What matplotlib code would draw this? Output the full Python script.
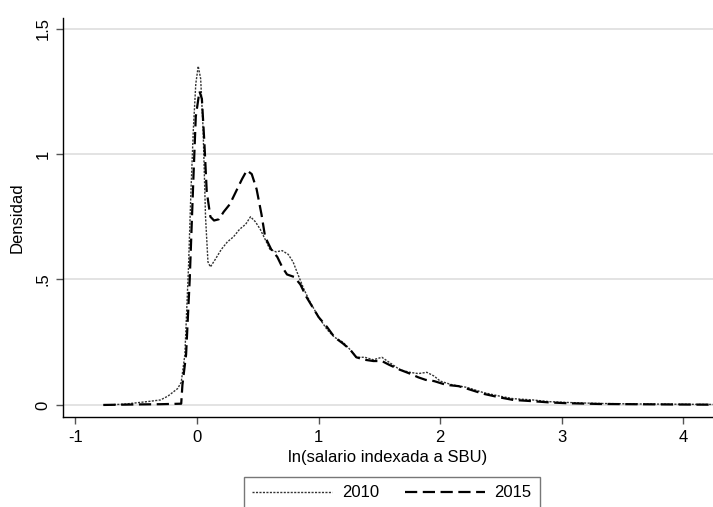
import matplotlib
matplotlib.use("Agg")
import matplotlib.pyplot as plt

# ---- data ----
x_2010 = [-0.77, -0.6, -0.47, -0.38, -0.3, -0.24, -0.2, -0.16, -0.13, -0.10, -0.07, -0.05,
          -0.03, -0.01, 0.01, 0.03, 0.05, 0.07, 0.09, 0.11, 0.15, 0.2, 0.25, 0.3, 0.35, 0.4,
          0.44, 0.48, 0.52, 0.56, 0.6, 0.65, 0.7, 0.75, 0.79, 0.83, 0.88, 0.93, 1.0, 1.07,
          1.13, 1.2, 1.26, 1.31, 1.38, 1.45, 1.52, 1.58, 1.67, 1.75, 1.82, 1.89, 1.95, 2.0,
          2.1, 2.22, 2.35, 2.49, 2.6, 2.76, 2.9, 3.04, 3.3, 3.6, 3.9, 4.25]
y_2010 = [0.0, 0.003, 0.01, 0.015, 0.02, 0.035, 0.05, 0.065, 0.09, 0.2, 0.55, 0.85,
          1.1, 1.28, 1.35, 1.3, 1.1, 0.75, 0.57, 0.55, 0.58, 0.62, 0.65, 0.67, 0.70, 0.72,
          0.75, 0.73, 0.70, 0.66, 0.62, 0.61, 0.615, 0.6, 0.57, 0.52, 0.46, 0.41, 0.35, 0.30,
          0.27, 0.25, 0.22, 0.19, 0.19, 0.18, 0.19, 0.17, 0.14, 0.13, 0.125, 0.13, 0.115, 0.095,
          0.08, 0.07, 0.05, 0.035, 0.025, 0.02, 0.013, 0.01, 0.006, 0.004, 0.003, 0.002]

x_2015 = [-0.77, -0.5, -0.3, -0.13, -0.12, -0.09, -0.06, -0.03, -0.01, 0.02, 0.04, 0.06,
          0.08, 0.11, 0.14, 0.18, 0.22, 0.27, 0.32, 0.37, 0.41, 0.45, 0.49, 0.53, 0.56, 0.61,
          0.66, 0.70, 0.74, 0.8, 0.85, 0.9, 0.95, 1.0, 1.07, 1.13, 1.2, 1.26, 1.31, 1.38,
          1.45, 1.52, 1.58, 1.67, 1.75, 1.82, 1.88, 1.95, 2.05, 2.15, 2.22, 2.35, 2.49, 2.6,
          2.76, 2.9, 3.04, 3.3, 3.6, 3.9, 4.25]
y_2015 = [0.0, 0.002, 0.003, 0.005, 0.08, 0.2, 0.5, 0.9, 1.15, 1.25, 1.22, 1.05,
          0.85, 0.75, 0.735, 0.74, 0.77, 0.8, 0.85, 0.90, 0.935, 0.92, 0.86, 0.76, 0.67, 0.62,
          0.59, 0.55, 0.52, 0.51, 0.48, 0.43, 0.39, 0.35, 0.31, 0.27, 0.245, 0.22, 0.19, 0.18,
          0.175, 0.175, 0.16, 0.14, 0.125, 0.11, 0.10, 0.095, 0.08, 0.075, 0.065, 0.045, 0.03, 0.02,
          0.015, 0.01, 0.007, 0.004, 0.003, 0.002, 0.001]

series_labels = ["2010", "2015"]
x_ticks = [-1, 0, 1, 2, 3, 4]
x_ticklabels = ["-1", "0", "1", "2", "3", "4"]
y_ticks = [0, 0.5, 1, 1.5]
y_ticklabels = ["0", ".5", "1", "1.5"]

plt.rcParams['font.family'] = ['Liberation Sans', 'DejaVu Sans']

W, H = 713, 507
fig = plt.figure(figsize=(W / 100, H / 100), dpi=100)
ax = fig.add_axes([63 / W, 1 - 417 / H, 1 - 63 / W, (417 - 18) / H])

ax.plot(x_2010, y_2010, color='#333333', lw=1.0, linestyle=(0, (1.5, 1.0)),
        label=series_labels[0], zorder=3)
ax.plot(x_2015, y_2015, color='black', lw=1.6, linestyle=(0, (5.5, 2.5)),
        label=series_labels[1], zorder=3)

ax.set_xlim(-1.102, 4.243)
ax.set_ylim(-0.048, 1.542)

for yv in y_ticks:
    ax.axhline(yv, color='#e3e3e3', lw=1.4, zorder=1)

ax.set_xticks(x_ticks)
ax.set_xticklabels(x_ticklabels)
ax.set_yticks(y_ticks)
ax.set_yticklabels(y_ticklabels, rotation=90, va='center')

ax.tick_params(axis='both', direction='out', length=5, width=1, color='#555555',
               labelsize=12, pad=4)

for s in ['top', 'right']:
    ax.spines[s].set_visible(False)
for s in ['left', 'bottom']:
    ax.spines[s].set_color('black')
    ax.spines[s].set_linewidth(1.0)

ax.set_xlabel("ln(salario indexada a SBU)", fontsize=12, labelpad=4)
ax.set_ylabel("Densidad", fontsize=12, labelpad=8)

leg = fig.legend(loc='upper center', bbox_to_anchor=(392 / W, 1 - 477 / H),
                 ncol=2, fontsize=12, frameon=True, fancybox=False,
                 handlelength=4.8, columnspacing=1.5, borderpad=0.5,
                 handletextpad=0.6, borderaxespad=0)
leg.get_frame().set_edgecolor('#555555')
leg.get_frame().set_linewidth(1.0)

fig.savefig("out.png", dpi=100)
